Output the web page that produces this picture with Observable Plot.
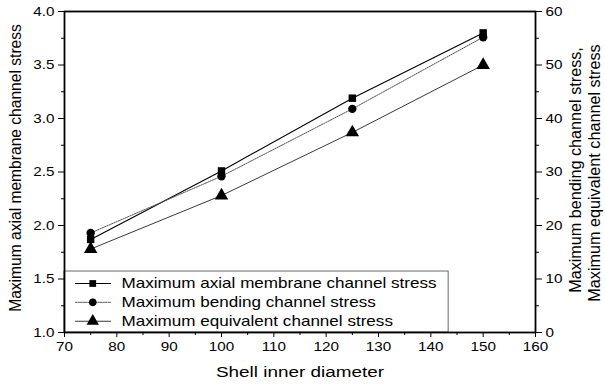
<!DOCTYPE html>
<html><head><meta charset="utf-8">
<script src="https://cdn.jsdelivr.net/npm/d3@7"></script>
<script src="https://cdn.jsdelivr.net/npm/@observablehq/plot@0.6"></script>
<style>body{margin:0;background:#fff}svg{font-family:"Liberation Sans",Arial,sans-serif}</style>
</head><body><div id="chart"></div>
<script>
const diameters = [75, 100, 125, 150];
const axialStress = [1.87, 2.51, 3.19, 3.80];        // left axis
const bendingStress = [18.6, 29.2, 41.8, 55.2];      // right axis
const equivalentStress = [15.6, 25.6, 37.4, 50.0];   // right axis
const seriesNames = ["Maximum axial membrane channel stress", "Maximum bending channel stress", "Maximum equivalent channel stress"];
const seriesSymbols = ["square", "circle", "triangle"];
const leftTicks = [1.0, 1.5, 2.0, 2.5, 3.0, 3.5, 4.0];
const rightTicks = [0, 10, 20, 30, 40, 50, 60];
const xTicks = [70, 80, 90, 100, 110, 120, 130, 140, 150, 160];

const toLeft = v => 1 + v * 3 / 60;
const rows = [];
diameters.forEach((d, i) => {
  rows.push({s: 0, x: d, y: axialStress[i]});
  rows.push({s: 1, x: d, y: toLeft(bendingStress[i])});
  rows.push({s: 2, x: d, y: toLeft(equivalentStress[i])});
});
const lineStyles = [
  {stroke: "#000", strokeWidth: 1.1, strokeDasharray: null},
  {stroke: "#555", strokeWidth: 1, strokeDasharray: "1.5,1"},
  {stroke: "#222", strokeWidth: 0.9, strokeDasharray: null}
];
const legend = seriesNames.map((n, i) => ({s: i, name: n, y: [1.458, 1.282, 1.105][i]}));
const minorLeft = d3.range(1.25, 4, 0.5);
const minorRight = [5, 15, 25, 35, 45, 55].map(toLeft);
const minorX = d3.range(75, 160, 10);

const marks = [];
marks.push(Plot.rect([{x1: 70, x2: 143.4, y1: 1, y2: 1.57}], {x1: "x1", x2: "x2", y1: "y1", y2: "y2", fill: "none", stroke: "#444", strokeWidth: 0.8}));
[0, 1, 2].forEach(k => {
  const st = lineStyles[k];
  marks.push(Plot.line(rows.filter(r => r.s === k), {x: "x", y: "y", ...st}));
  marks.push(Plot.dot(rows.filter(r => r.s === k), {x: "x", y: "y", symbol: seriesSymbols[k], r: k === 2 ? 5 : 4.2, fill: "#000", stroke: "none"}));
  const lg = legend.filter(l => l.s === k);
  marks.push(Plot.line([{x: 72.1, y: lg[0].y}, {x: 78.8, y: lg[0].y}], {x: "x", y: "y", ...st}));
  marks.push(Plot.dot(lg, {x: () => 75.4, y: "y", symbol: seriesSymbols[k], r: k === 2 ? 4.6 : 3.8, fill: "#000"}));
  marks.push(Plot.text(lg, {x: () => 80.9, y: "y", text: "name", textAnchor: "start", fontSize: 14, fill: "#000"}));
});
marks.push(
  Plot.axisX({ticks: xTicks, tickSize: 5, tickFormat: d => d, fontSize: 12.5, tickPadding: 5, label: null}),
  Plot.axisX({ticks: minorX, tickSize: 3, text: null, label: null}),
  Plot.axisY({ticks: leftTicks, tickSize: 6, tickFormat: d3.format(".1f"), fontSize: 12.5, tickPadding: 4, label: null}),
  Plot.axisY({ticks: minorLeft, tickSize: 3, text: null, label: null}),
  Plot.axisY({anchor: "right", ticks: rightTicks.map(toLeft), tickSize: 6, tickFormat: d => Math.round((d - 1) * 20), fontSize: 12.5, tickPadding: 4, label: null}),
  Plot.axisY({anchor: "right", ticks: minorRight, tickSize: 3, text: null, label: null}),
  Plot.frame({stroke: "#000", strokeWidth: 1.8}),
  Plot.text(["Maximum axial membrane channel stress"], {frameAnchor: "left", dx: -49, dy: -4, rotate: -90, textAnchor: "middle", fontSize: 15.6, fill: "#000"}),
  Plot.text(["Maximum bending channel stress,"], {frameAnchor: "right", dx: 40, dy: -2, rotate: -90, textAnchor: "middle", fontSize: 16.2, fill: "#000"}),
  Plot.text(["Maximum equivalent channel stress"], {frameAnchor: "right", dx: 59, dy: 1, rotate: -90, textAnchor: "middle", fontSize: 16.2, fill: "#000"}),
  Plot.text(["Shell inner diameter"], {frameAnchor: "bottom", dy: 44, textAnchor: "middle", fontSize: 15.5, fill: "#000"})
);

const chart = Plot.plot({
  width: 605, height: 389,
  marginLeft: 64, marginRight: 70, marginTop: 11, marginBottom: 57,
  x: {domain: [70, 160]},
  y: {domain: [1, 4]},
  style: {fontFamily: "'Liberation Sans', Arial, sans-serif", color: "#000", background: "#fff"},
  marks
});
document.getElementById("chart").appendChild(chart);

// the reference's lettering is horizontally wide: stretch glyphs along the screen x direction
const S = 1.22;
chart.querySelectorAll("text").forEach(el => {
  const t = el.getAttribute("transform") || "";
  const rotated = /rotate/.test(t);
  const sx = rotated ? 1 : S, sy = rotated ? 1.04 : 1;
  const num = v => { const n = parseFloat(v); return (v && /^-?[\d.]+$/.test(v.trim()) && isFinite(n)) ? n : 0; };
  const X = num(el.getAttribute("x")), Y = num(el.getAttribute("y"));
  el.setAttribute("transform", `${t} translate(${X},${Y}) scale(${sx},${sy}) translate(${-X},${-Y})`);
});
</script>
</body></html>
